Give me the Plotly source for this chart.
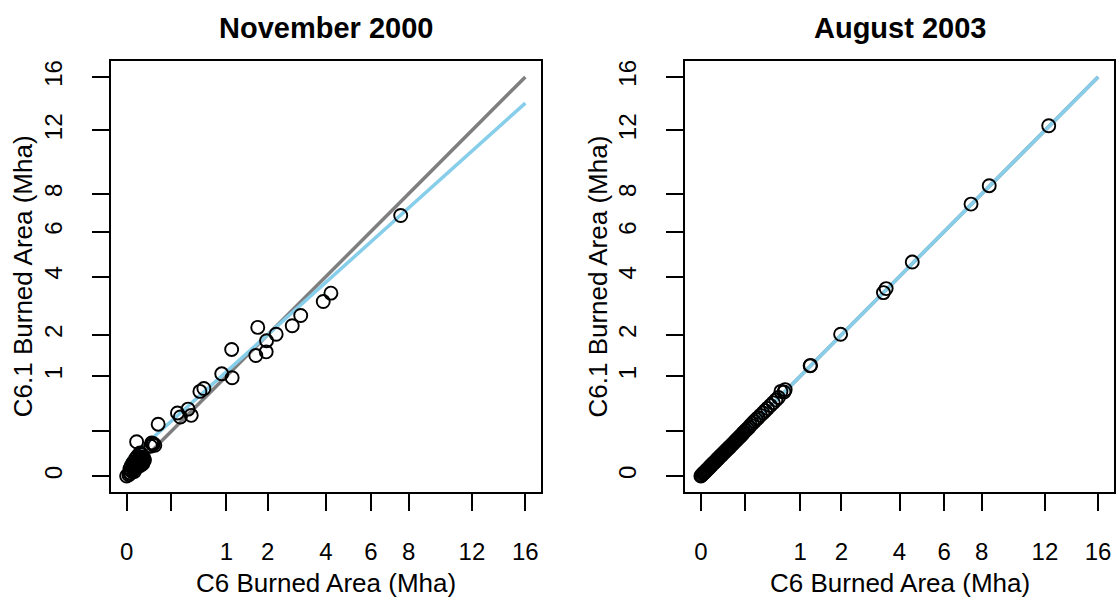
import numpy as np
import plotly.graph_objects as go

# ---------------- data (Mha) ----------------
tick_values = [0, 0.2, 1, 2, 4, 6, 8, 12, 16]
tick_labels = ["0", "", "1", "2", "4", "6", "8", "12", "16"]

# November 2000
nov_c6 = [7.56, 4.20, 3.89, 3.05, 2.76, 2.25, 1.97, 1.73, 1.96, 1.68, 1.11, 1.12,
          0.91, 0.60, 0.54, 0.38, 0.42, 0.26, 0.29, 0.10, 0.010, 0.063, 0.068,
          0.072, 0.080, 0.058, 0.018,
          0.000, 0.001, 0.002, 0.003, 0.004, 0.005, 0.006, 0.008, 0.009, 0.010,
          0.012, 0.013, 0.015, 0.016, 0.018, 0.019, 0.021, 0.022, 0.024, 0.025,
          0.012, 0.008, 0.027, 0.030, 0.004, 0.002, 0.001, 0.0005, 0.0015,
          0.014, 0.020, 0.026, 0.011, 0.017, 0.023, 0.007, 0.028, 0.032, 0.006]
nov_c61 = [6.82, 3.36, 3.06, 2.59, 2.27, 2.02, 1.84, 2.22, 1.55, 1.46, 1.61, 0.97,
           1.05, 0.77, 0.72, 0.45, 0.37, 0.40, 0.35, 0.27, 0.118, 0.110, 0.100,
           0.105, 0.095, 0.090, 0.053,
           0.000, 0.001, 0.003, 0.002, 0.006, 0.004, 0.009, 0.006, 0.012, 0.008,
           0.015, 0.011, 0.020, 0.013, 0.024, 0.017, 0.028, 0.019, 0.033, 0.022,
           0.040, 0.030, 0.036, 0.030, 0.018, 0.010, 0.005, 0.0002, 0.0008,
           0.009, 0.012, 0.015, 0.025, 0.032, 0.045, 0.016, 0.020, 0.026, 0.002]
nov_fit_x = [0, 16]
nov_fit_y = [0.022, 13.97]

# August 2003
aug_c6 = [12.27, 8.43, 7.40, 4.53, 3.48, 3.38, 1.98, 1.22, 1.21, 0.72, 0.65,
          0.70, 0.61, 0.57, 0.53, 0.49, 0.45, 0.42, 0.39, 0.36, 0.33, 0.31, 0.29,
          0.27, 0.25, 0.235, 0.22, 0.205, 0.19, 0.18, 0.17, 0.16, 0.15, 0.14,
          0.13, 0.123, 0.115, 0.107, 0.10, 0.093, 0.086, 0.080, 0.074, 0.068,
          0.063, 0.058, 0.053, 0.048, 0.044, 0.040, 0.036, 0.032, 0.029, 0.026,
          0.0225, 0.0196, 0.017, 0.0144, 0.012, 0.010, 0.0081, 0.0064, 0.0049,
          0.0036, 0.0025, 0.0016, 0.0009, 0.0004, 0.0001, 0.0]
aug_c61 = [12.33, 8.47, 7.43, 4.60, 3.53, 3.38, 2.02, 1.23, 1.22, 0.75, 0.72,
           0.71, 0.62, 0.58, 0.54, 0.50, 0.46, 0.43, 0.40, 0.37, 0.34, 0.32, 0.30,
           0.28, 0.26, 0.24, 0.225, 0.21, 0.195, 0.185, 0.172, 0.162, 0.152, 0.142,
           0.132, 0.125, 0.117, 0.108, 0.101, 0.094, 0.087, 0.081, 0.075, 0.069,
           0.064, 0.059, 0.054, 0.049, 0.045, 0.041, 0.037, 0.033, 0.030, 0.027,
           0.023, 0.020, 0.0175, 0.015, 0.0125, 0.0104, 0.0084, 0.0066, 0.0051,
           0.0038, 0.0026, 0.0017, 0.0010, 0.0005, 0.0001, 0.0]
aug_fit_x = [0, 16]
aug_fit_y = [0, 16]
one_to_one = [0, 16]

# ---------------- figure ----------------
W, H = 1116, 598
sq = np.sqrt  # square-root axis transform

fig = go.Figure()

def add_panel(xs, ys, fx, fy, xa, ya):
    fig.add_trace(go.Scatter(x=sq(one_to_one), y=sq(one_to_one), mode="lines",
                             line=dict(color="#7f7f7f", width=3.5),
                             xaxis=xa, yaxis=ya, showlegend=False, hoverinfo="skip"))
    fig.add_trace(go.Scatter(x=sq(fx), y=sq(fy), mode="lines",
                             line=dict(color="#87CEEB", width=3.5),
                             xaxis=xa, yaxis=ya, showlegend=False, hoverinfo="skip"))
    fig.add_trace(go.Scatter(x=sq(xs), y=sq(ys), mode="markers",
                             marker=dict(symbol="circle-open", size=13, color="black",
                                         line=dict(width=1.9, color="black")),
                             xaxis=xa, yaxis=ya, showlegend=False))

add_panel(nov_c6, nov_c61, nov_fit_x, nov_fit_y, "x", "y")
add_panel(aug_c6, aug_c61, aug_fit_x, aug_fit_y, "x2", "y2")

rng = [-0.16, 4.16]
tv = list(sq(tick_values))
font_family = "Liberation Sans, Arial, sans-serif"

axis_common = dict(range=rng, showgrid=False, zeroline=False, showline=True,
                   linecolor="black", linewidth=2, mirror=True,
                   ticks="outside", ticklen=17, tickwidth=2, tickcolor="black",
                   tickvals=tv, ticktext=tick_labels,
                   tickfont=dict(family=font_family, size=24, color="black"))

x1d = [110.7 / W, 541.3 / W]
x2d = [685 / W, 1114 / W]
yd = [1 - 492 / H, 1 - 61 / H]

fig.update_layout(
    width=W, height=H,
    margin=dict(l=0, r=0, t=0, b=0),
    paper_bgcolor="white", plot_bgcolor="white",
    xaxis=dict(domain=x1d, anchor="y", ticklabelstandoff=20, **axis_common),
    yaxis=dict(domain=yd, anchor="x", tickangle=-90, ticklabelstandoff=20, **axis_common),
    xaxis2=dict(domain=x2d, anchor="y2", ticklabelstandoff=20, **axis_common),
    yaxis2=dict(domain=yd, anchor="x2", tickangle=-90, ticklabelstandoff=20, **axis_common),
)

ann = []
for dom, title in [(x1d, "November 2000"), (x2d, "August 2003")]:
    cx = (dom[0] + dom[1]) / 2
    ann.append(dict(text="<b>%s</b>" % title, x=cx, y=1 - 28 / H, xref="paper", yref="paper",
                    showarrow=False, xanchor="center", yanchor="middle",
                    font=dict(family=font_family, size=29, color="black")))
    ann.append(dict(text="C6 Burned Area (Mha)", x=cx, y=1 - 583 / H, xref="paper",
                    yref="paper", showarrow=False, xanchor="center", yanchor="middle",
                    font=dict(family=font_family, size=26, color="black")))
    ann.append(dict(text="C6.1 Burned Area (Mha)", x=(dom[0] * W - 88) / W,
                    y=(yd[0] + yd[1]) / 2, xref="paper", yref="paper", textangle=-90,
                    showarrow=False, xanchor="center", yanchor="middle",
                    font=dict(family=font_family, size=26, color="black")))
fig.update_layout(annotations=ann)

fig.write_html("out.html", config={"displayModeBar": False},
               post_script="document.body.style.margin='0px';")
